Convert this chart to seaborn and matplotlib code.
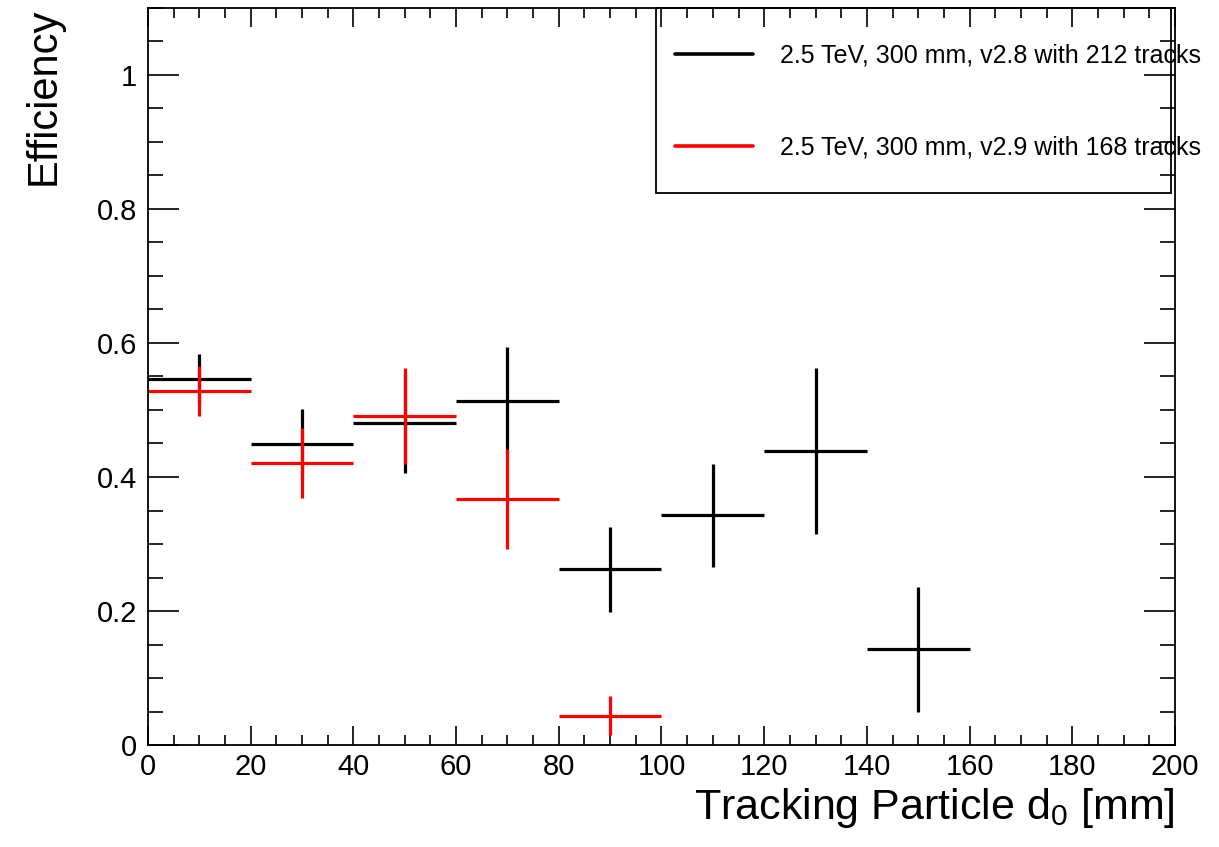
import matplotlib
matplotlib.use("Agg")
import matplotlib.pyplot as plt
import seaborn as sns
import pandas as pd
from matplotlib.lines import Line2D
from matplotlib.ticker import MultipleLocator
from matplotlib.patches import Rectangle

# bin centres (mm) and efficiencies
d0_v28 = [10, 30, 50, 70, 90, 110, 130, 150]
eff_v28 = [0.547, 0.449, 0.480, 0.514, 0.262, 0.343, 0.439, 0.143]
err_v28 = [0.037, 0.053, 0.074, 0.080, 0.064, 0.077, 0.124, 0.093]

d0_v29 = [10, 30, 50, 70, 90]
eff_v29 = [0.528, 0.421, 0.491, 0.367, 0.044]
err_v29 = [0.037, 0.052, 0.072, 0.075, 0.029]

bin_half = 10

labels = ["2.5 TeV, 300 mm, v2.8 with 212 tracks",
          "2.5 TeV, 300 mm, v2.9 with 168 tracks"]
colors = {labels[0]: "black", labels[1]: "#ff0000"}

df = pd.concat([
    pd.DataFrame({"d0": d0_v28, "eff": eff_v28, "err": err_v28, "label": labels[0]}),
    pd.DataFrame({"d0": d0_v29, "eff": eff_v29, "err": err_v29, "label": labels[1]}),
])

sns.set_style("ticks")
plt.rcParams["font.family"] = ["Liberation Sans", "DejaVu Sans"]
plt.rcParams["mathtext.default"] = "regular"
for k in ["text.color", "axes.labelcolor", "xtick.color", "ytick.color"]:
    plt.rcParams[k] = "black"

fig = plt.figure(figsize=(12.19, 8.47), dpi=100)
ax = fig.add_axes([0.1214, 0.1204, 0.8425, 0.8702])

for label in labels:
    grp = df[df["label"] == label]
    ax.errorbar(grp["d0"], grp["eff"], xerr=bin_half, yerr=grp["err"],
                fmt="none", ecolor=colors[label], elinewidth=2.3, capsize=0)

ax.set_xlim(0, 200)
ax.set_ylim(0, 1.1)
ax.xaxis.set_major_locator(MultipleLocator(20))
ax.xaxis.set_minor_locator(MultipleLocator(5))
ax.yaxis.set_minor_locator(MultipleLocator(0.05))
ax.set_yticks([0, 0.2, 0.4, 0.6, 0.8, 1.0])
ax.set_yticklabels(["0", "0.2", "0.4", "0.6", "0.8", "1"])

for s in ax.spines.values():
    s.set_linewidth(1.3)
    s.set_color("black")

ax.tick_params(axis="x", which="major", direction="in", length=14, width=1.2,
               top=True, labelsize=21, pad=6)
ax.tick_params(axis="x", which="minor", direction="in", length=7, width=1.2, top=True)
ax.tick_params(axis="y", which="major", direction="in", length=22, width=1.2,
               right=True, labelsize=21, pad=8)
ax.tick_params(axis="y", which="minor", direction="in", length=11, width=1.2, right=True)

ax.set_xlabel("Tracking Particle d$_0$ [mm]", fontsize=31, loc="right", labelpad=3)
ax.set_ylabel("Efficiency", fontsize=30, loc="top", labelpad=24)

# ROOT-style legend box (text runs over the right edge, as in the original)
ax.add_patch(Rectangle((0.4946, 0.7494), 0.5015, 0.2506, transform=ax.transAxes,
                       fill=False, edgecolor="black", linewidth=1.3, zorder=5,
                       clip_on=False))
handles = [Line2D([], [], color=colors[l], linewidth=2.6) for l in labels]
ax.legend(handles, labels, loc="upper left", bbox_to_anchor=(0.5035, 0.965),
          frameon=False, fontsize=18, handlelength=3.1, handletextpad=1.1,
          labelspacing=2.7, borderaxespad=0)

fig.savefig("out.png", dpi=100)
